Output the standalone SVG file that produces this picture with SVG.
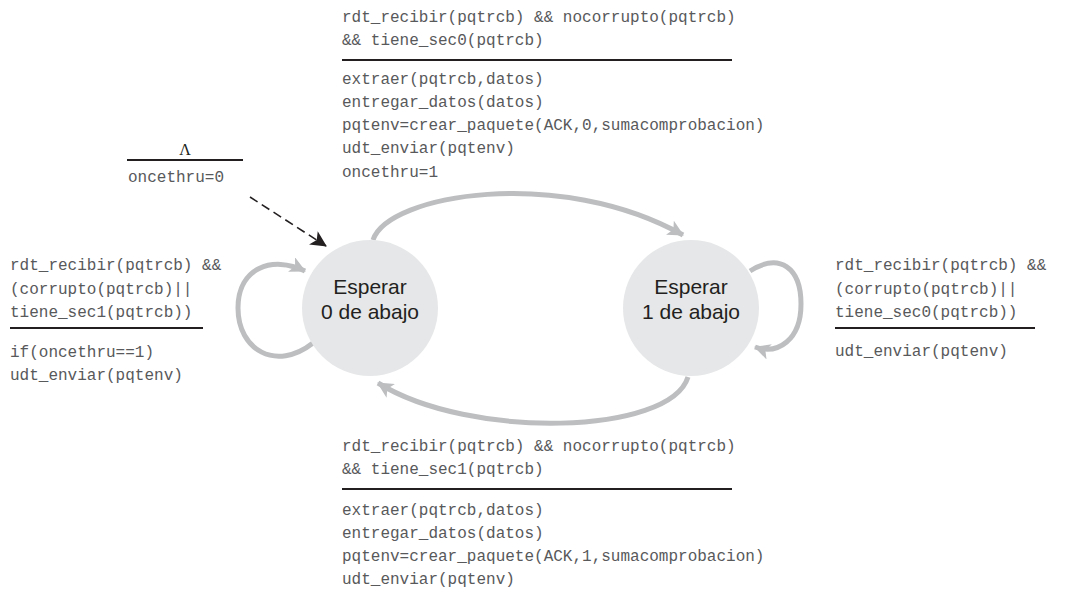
<svg xmlns="http://www.w3.org/2000/svg" width="1083" height="590" viewBox="0 0 1083 590">
<style>
.m{font-family:"Liberation Mono","Courier New",monospace;font-size:16px;fill:#58595b}
.n{font-family:"Liberation Sans",Arial,sans-serif;font-size:21px;fill:#231f20;text-anchor:middle}
.s{fill:#e6e7e8}
.rule{stroke:#231f20;stroke-width:2}
.arc{fill:none;stroke:#bcbec0;stroke-width:5}
</style>
<defs>
<marker id="ga" markerUnits="userSpaceOnUse" markerWidth="18" markerHeight="16" refX="15" refY="8" orient="auto">
<path d="M0,0 L16,8 L0,16 L4,8 Z" fill="#bcbec0"/>
</marker>
<marker id="ba" markerUnits="userSpaceOnUse" markerWidth="18" markerHeight="16" refX="15" refY="8" orient="auto">
<path d="M0,0 L16,8 L0,16 L4,8 Z" fill="#231f20"/>
</marker>
</defs>
<rect width="1083" height="590" fill="#ffffff"/>
<g id="connectors">
<path class="arc" d="M373,240 C388,194 560,166 683,235" marker-end="url(#ga)"/>
<path class="arc" d="M688,377 C670,435 470,440 378,383" marker-end="url(#ga)"/>
<path class="arc" d="M313,343 C276,372 238,350 238,308 C238,268 272,255 305,271" marker-end="url(#ga)"/>
<path class="arc" d="M750,271 C780,252 801,268 801,304 C801,340 778,355 755,347" marker-end="url(#ga)"/>
<path d="M250,197 L326,246" fill="none" stroke="#231f20" stroke-width="1.6" stroke-dasharray="9,5" marker-end="url(#ba)"/>
</g>
<g id="state0">
<circle class="s" cx="370" cy="308" r="68"/>
<text class="n" x="370" y="294">Esperar</text>
<text class="n" x="370" y="319">0 de abajo</text>
</g>
<g id="state1">
<circle class="s" cx="691" cy="308" r="68"/>
<text class="n" x="691" y="294">Esperar</text>
<text class="n" x="691" y="319">1 de abajo</text>
</g>
<g id="label-init">
<text x="185" y="155" font-family="Liberation Serif,serif" font-size="16" fill="#231f20" text-anchor="middle">Λ</text>
<line class="rule" x1="127" y1="160" x2="243" y2="160"/>
<text class="m" x="128" y="182">oncethru=0</text>
</g>
<g id="label-top">
<text class="m" x="342" y="22">rdt_recibir(pqtrcb) &amp;&amp; nocorrupto(pqtrcb)</text>
<text class="m" x="342" y="45">&amp;&amp; tiene_sec0(pqtrcb)</text>
<line class="rule" x1="342" y1="60" x2="732" y2="60"/>
<text class="m" x="342" y="84">extraer(pqtrcb,datos)</text>
<text class="m" x="342" y="107">entregar_datos(datos)</text>
<text class="m" x="342" y="130">pqtenv=crear_paquete(ACK,0,sumacomprobacion)</text>
<text class="m" x="342" y="153">udt_enviar(pqtenv)</text>
<text class="m" x="342" y="177">oncethru=1</text>
</g>
<g id="label-left">
<text class="m" x="10" y="270">rdt_recibir(pqtrcb) &amp;&amp;</text>
<text class="m" x="10" y="294">(corrupto(pqtrcb)||</text>
<text class="m" x="10" y="317">tiene_sec1(pqtrcb))</text>
<line class="rule" x1="10" y1="328" x2="203" y2="328"/>
<text class="m" x="10" y="357">if(oncethru==1)</text>
<text class="m" x="10" y="380">udt_enviar(pqtenv)</text>
</g>
<g id="label-right">
<text class="m" x="835" y="270">rdt_recibir(pqtrcb) &amp;&amp;</text>
<text class="m" x="835" y="294">(corrupto(pqtrcb)||</text>
<text class="m" x="835" y="317">tiene_sec0(pqtrcb))</text>
<line class="rule" x1="835" y1="328" x2="1035" y2="328"/>
<text class="m" x="835" y="356">udt_enviar(pqtenv)</text>
</g>
<g id="label-bottom">
<text class="m" x="342" y="451">rdt_recibir(pqtrcb) &amp;&amp; nocorrupto(pqtrcb)</text>
<text class="m" x="342" y="474">&amp;&amp; tiene_sec1(pqtrcb)</text>
<line class="rule" x1="342" y1="489" x2="732" y2="489"/>
<text class="m" x="342" y="515">extraer(pqtrcb,datos)</text>
<text class="m" x="342" y="538">entregar_datos(datos)</text>
<text class="m" x="342" y="561">pqtenv=crear_paquete(ACK,1,sumacomprobacion)</text>
<text class="m" x="342" y="584">udt_enviar(pqtenv)</text>
</g>
</svg>
